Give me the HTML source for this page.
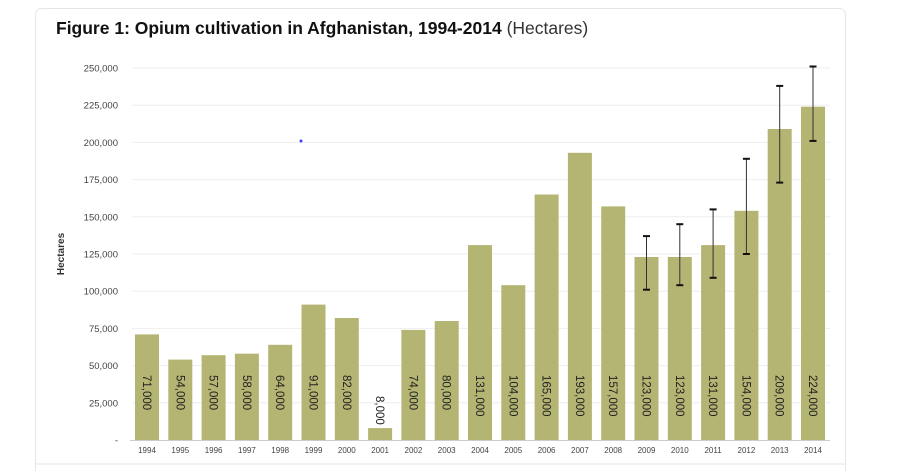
<!DOCTYPE html><html><head><style>body{margin:0;background:#fff;width:900px;height:471px;overflow:hidden}</style></head><body>
<svg width="900" height="471" xmlns="http://www.w3.org/2000/svg" font-family="Liberation Sans, Arial, sans-serif">
<rect x="35.5" y="8.5" width="810" height="480" rx="6" fill="#fff" stroke="#e6e6e6"/>
<line x1="36" y1="464" x2="845" y2="464" stroke="#e6e6e6"/>
<text x="56" y="34" font-size="17.5" font-weight="bold" fill="#111">Figure 1: Opium cultivation in Afghanistan, 1994-2014 <tspan font-weight="normal" fill="#333">(Hectares)</tspan></text>
<g stroke="#eeeeee">
<line x1="132" x2="830" y1="68" y2="68"/><line x1="132" x2="830" y1="105.2" y2="105.2"/><line x1="132" x2="830" y1="142.4" y2="142.4"/><line x1="132" x2="830" y1="179.6" y2="179.6"/><line x1="132" x2="830" y1="216.8" y2="216.8"/><line x1="132" x2="830" y1="254" y2="254"/><line x1="132" x2="830" y1="291.2" y2="291.2"/><line x1="132" x2="830" y1="328.4" y2="328.4"/><line x1="132" x2="830" y1="365.6" y2="365.6"/><line x1="132" x2="830" y1="402.8" y2="402.8"/>
</g>
<g font-size="9.5" fill="#444" text-anchor="end">
<text x="118" y="71.5">250,000</text><text x="118" y="108.7">225,000</text><text x="118" y="145.9">200,000</text><text x="118" y="183.1">175,000</text><text x="118" y="220.3">150,000</text><text x="118" y="257.5">125,000</text><text x="118" y="294.7">100,000</text><text x="118" y="331.9">75,000</text><text x="118" y="369.1">50,000</text><text x="118" y="406.3">25,000</text><text x="118" y="443.5">-</text>
</g>
<text transform="translate(64,254) rotate(-90)" font-size="10" font-weight="bold" fill="#333" text-anchor="middle">Hectares</text>
<circle cx="301" cy="141" r="1.5" fill="#4040ff"/>
<g fill="#b5b573">
<rect x="135" y="334.4" width="24" height="105.6"/>
<rect x="168.3" y="359.6" width="24" height="80.4"/>
<rect x="201.6" y="355.2" width="24" height="84.8"/>
<rect x="234.9" y="353.7" width="24" height="86.3"/>
<rect x="268.2" y="344.8" width="24" height="95.2"/>
<rect x="301.5" y="304.6" width="24" height="135.4"/>
<rect x="334.8" y="318" width="24" height="122"/>
<rect x="368.1" y="428.1" width="24" height="11.9"/>
<rect x="401.4" y="329.9" width="24" height="110.1"/>
<rect x="434.7" y="321" width="24" height="119"/>
<rect x="468" y="245.1" width="24" height="194.9"/>
<rect x="501.3" y="285.2" width="24" height="154.8"/>
<rect x="534.6" y="194.5" width="24" height="245.5"/>
<rect x="567.9" y="152.8" width="24" height="287.2"/>
<rect x="601.2" y="206.4" width="24" height="233.6"/>
<rect x="634.5" y="257" width="24" height="183"/>
<rect x="667.8" y="257" width="24" height="183"/>
<rect x="701.1" y="245.1" width="24" height="194.9"/>
<rect x="734.4" y="210.8" width="24" height="229.2"/>
<rect x="767.7" y="129" width="24" height="311"/>
<rect x="801" y="106.7" width="24" height="333.3"/>
</g>
<line x1="130" x2="830" y1="440.5" y2="440.5" stroke="#ccc"/>
<g font-size="11.5" fill="#222">
<text transform="translate(143,375) rotate(90)">71,000</text>
<text transform="translate(176.3,375) rotate(90)">54,000</text>
<text transform="translate(209.6,375) rotate(90)">57,000</text>
<text transform="translate(242.9,375) rotate(90)">58,000</text>
<text transform="translate(276.2,375) rotate(90)">64,000</text>
<text transform="translate(309.5,375) rotate(90)">91,000</text>
<text transform="translate(342.8,375) rotate(90)">82,000</text>
<text transform="translate(376.1,396) rotate(90)">8,000</text>
<text transform="translate(409.4,375) rotate(90)">74,000</text>
<text transform="translate(442.7,375) rotate(90)">80,000</text>
<text transform="translate(476,375) rotate(90)">131,000</text>
<text transform="translate(509.3,375) rotate(90)">104,000</text>
<text transform="translate(542.6,375) rotate(90)">165,000</text>
<text transform="translate(575.9,375) rotate(90)">193,000</text>
<text transform="translate(609.2,375) rotate(90)">157,000</text>
<text transform="translate(642.5,375) rotate(90)">123,000</text>
<text transform="translate(675.8,375) rotate(90)">123,000</text>
<text transform="translate(709.1,375) rotate(90)">131,000</text>
<text transform="translate(742.4,375) rotate(90)">154,000</text>
<text transform="translate(775.7,375) rotate(90)">209,000</text>
<text transform="translate(809,375) rotate(90)">224,000</text>
</g>
<g font-size="8" fill="#444" text-anchor="middle">
<text x="147" y="453">1994</text><text x="180.3" y="453">1995</text><text x="213.6" y="453">1996</text><text x="246.9" y="453">1997</text><text x="280.2" y="453">1998</text><text x="313.5" y="453">1999</text><text x="346.8" y="453">2000</text><text x="380.1" y="453">2001</text><text x="413.4" y="453">2002</text><text x="446.7" y="453">2003</text><text x="480" y="453">2004</text><text x="513.3" y="453">2005</text><text x="546.6" y="453">2006</text><text x="579.9" y="453">2007</text><text x="613.2" y="453">2008</text><text x="646.5" y="453">2009</text><text x="679.8" y="453">2010</text><text x="713.1" y="453">2011</text><text x="746.4" y="453">2012</text><text x="779.7" y="453">2013</text><text x="813" y="453">2014</text>
</g>
<g stroke="#333">
<line x1="646.5" x2="646.5" y1="236.1" y2="289.7"/><line x1="679.8" x2="679.8" y1="224.2" y2="285.2"/><line x1="713.1" x2="713.1" y1="209.4" y2="277.8"/><line x1="746.4" x2="746.4" y1="158.8" y2="254"/><line x1="779.7" x2="779.7" y1="85.9" y2="182.6"/><line x1="813" x2="813" y1="66.5" y2="140.9"/>
</g>
<g stroke="#111" stroke-width="2">
<line x1="643" x2="650" y1="236.1" y2="236.1"/><line x1="643" x2="650" y1="289.7" y2="289.7"/>
<line x1="676.3" x2="683.3" y1="224.2" y2="224.2"/><line x1="676.3" x2="683.3" y1="285.2" y2="285.2"/>
<line x1="709.6" x2="716.6" y1="209.4" y2="209.4"/><line x1="709.6" x2="716.6" y1="277.8" y2="277.8"/>
<line x1="742.9" x2="749.9" y1="158.8" y2="158.8"/><line x1="742.9" x2="749.9" y1="254" y2="254"/>
<line x1="776.2" x2="783.2" y1="85.9" y2="85.9"/><line x1="776.2" x2="783.2" y1="182.6" y2="182.6"/>
<line x1="809.5" x2="816.5" y1="66.5" y2="66.5"/><line x1="809.5" x2="816.5" y1="140.9" y2="140.9"/>
</g>
</svg></body></html>
